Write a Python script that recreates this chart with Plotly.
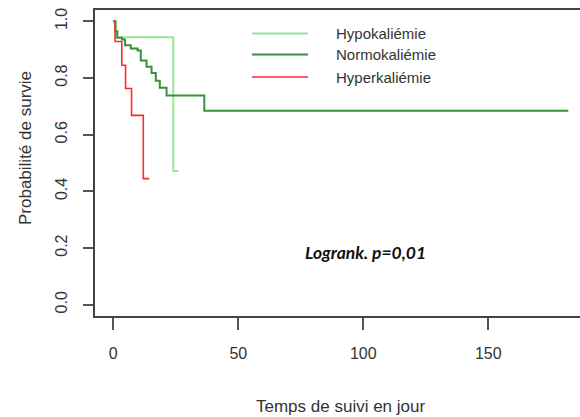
import plotly.graph_objects as go

# Kaplan-Meier survival estimates by potassium group (time in days)
hypo_t = [0, 1.0, 24.0, 26.0]
hypo_s = [1.0, 0.944, 0.472, 0.472]

normo_t = [0, 0.8, 1.6, 3.5, 4.7, 7.0, 9.7, 11.0, 13.3, 15.3, 17.0, 18.6, 21.3, 36.4, 182.0]
normo_s = [1.0, 0.965, 0.942, 0.936, 0.916, 0.904, 0.897, 0.862, 0.840, 0.818, 0.790, 0.766, 0.738, 0.684, 0.684]

hyper_t = [0, 0.7, 3.4, 4.9, 7.3, 12.0, 14.4]
hyper_s = [1.0, 0.929, 0.845, 0.763, 0.668, 0.445, 0.445]

group_names = ["Hypokaliémie", "Normokaliémie", "Hyperkaliémie"]
group_colors = ["#96e696", "#3a8f3a", "#ff2a2a"]
group_widths = [2, 2, 1.6]

x_ticks = [0, 50, 100, 150]
y_ticks = [0.0, 0.2, 0.4, 0.6, 0.8, 1.0]

W, H = 580, 417
ML, MR, MT, MB = 95, 0, 10, 101
PW, PH = W - ML - MR, H - MT - MB


def px_to_paper(px, py):
    return (px - ML) / PW, (H - MB - py) / PH


fig = go.Figure()
series = [(hypo_t, hypo_s), (normo_t, normo_s), (hyper_t, hyper_s)]
for (t, s), name, col, lw in zip(series, group_names, group_colors, group_widths):
    fig.add_trace(go.Scatter(
        x=t, y=s, mode="lines", line=dict(shape="hv", color=col, width=lw),
        name=name, showlegend=False, hoverinfo="skip",
    ))

font_main = "Liberation Sans, Arial, sans-serif"
txt_col = "#333333"

# legend drawn as line segments with labels
leg_y = [33.5, 54.5, 77]
for name, col, lw, ly in zip(group_names, group_colors, group_widths, leg_y):
    x0, yy = px_to_paper(252, ly)
    x1, _ = px_to_paper(308, ly)
    fig.add_shape(type="line", xref="paper", yref="paper", x0=x0, x1=x1, y0=yy, y1=yy,
                  line=dict(color=col, width=lw))
    tx, ty = px_to_paper(334, ly)
    fig.add_annotation(x=tx, y=ty, xref="paper", yref="paper", text=name, showarrow=False,
                       xanchor="left", yanchor="middle",
                       font=dict(family=font_main, size=15, color=txt_col))

# log-rank test result
lx, ly = px_to_paper(365, 252)
fig.add_annotation(x=lx, y=ly, xref="paper", yref="paper", text="<b><i>Logrank. p=0,01</i></b>",
                   showarrow=False, xanchor="center", yanchor="middle",
                   font=dict(family="Lato, Carlito, sans-serif", size=17.5, color="#111111"))

# axis titles
ax, ay = px_to_paper(340, 406)
fig.add_annotation(x=ax, y=ay, xref="paper", yref="paper", text="Temps de suivi en jour",
                   showarrow=False, xanchor="center", yanchor="middle",
                   font=dict(family=font_main, size=17, color=txt_col))
bx, by = px_to_paper(26, 148)
fig.add_annotation(x=bx, y=by, xref="paper", yref="paper", text="Probabilité de survie",
                   showarrow=False, xanchor="center", yanchor="middle", textangle=-90,
                   font=dict(family=font_main, size=17, color=txt_col))

x_lo = -(113.3 - ML) / 2.5
x_hi = (W - MR - 113.3) / 2.5

fig.update_layout(
    width=W, height=H,
    margin=dict(l=ML, r=MR, t=MT, b=MB, pad=0),
    paper_bgcolor="white", plot_bgcolor="white",
    xaxis=dict(range=[x_lo, x_hi], tickvals=x_ticks, ticktext=[str(v) for v in x_ticks],
               showgrid=False, zeroline=False, showline=True, mirror=True,
               linecolor="#444444", linewidth=1.5,
               ticks="outside", ticklen=12, tickwidth=1.5, tickcolor="#555555",
               ticklabelstandoff=10,
               tickfont=dict(family=font_main, size=16, color=txt_col)),
    yaxis=dict(range=[-0.04, 1.04], tickvals=y_ticks, ticktext=[f"{v:.1f}" for v in y_ticks],
               showgrid=False, zeroline=False, showline=True, mirror=False,
               linecolor="#444444", linewidth=1.5,
               ticks="outside", ticklen=10, tickwidth=1.5, tickcolor="#555555",
               tickangle=-90, ticklabelstandoff=10,
               tickfont=dict(family=font_main, size=16, color=txt_col)),
)

fig.write_html("out.html")
